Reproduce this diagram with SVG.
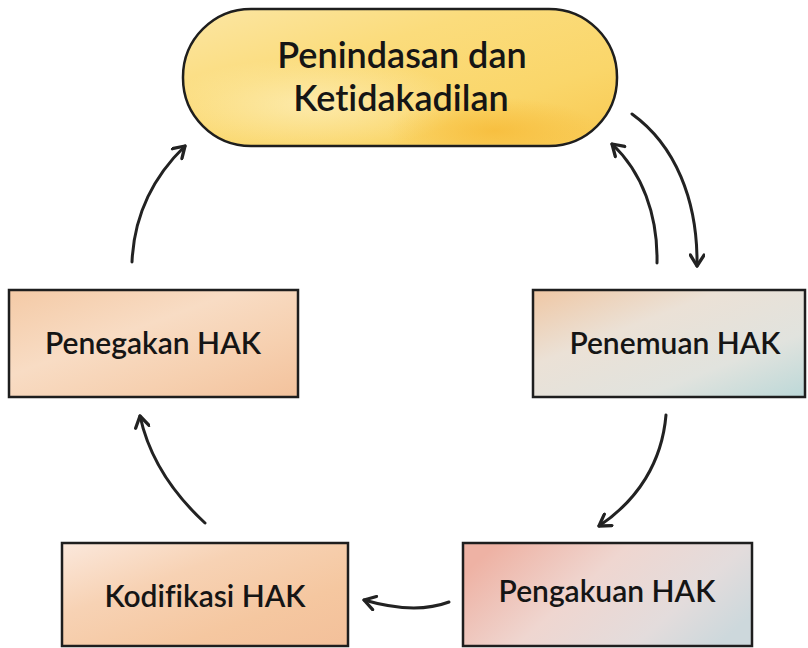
<svg xmlns="http://www.w3.org/2000/svg" width="808" height="648" viewBox="0 0 808 648">
  <style>
    .box { stroke: #1e1e1e; stroke-width: 2.5; }
    .label { font-family: "Lato", "Noto Sans", "Liberation Sans", sans-serif; font-weight: 600; fill: #151515; text-anchor: middle; font-variant-ligatures: none; }
    .big { font-size: 36px; }
    .mid { font-size: 30px; }
    .conn path { fill: none; stroke: #222; stroke-width: 3; stroke-linecap: round; marker-end: url(#head); }
  </style>
  <defs>
    <marker id="head" viewBox="0 0 12 12" refX="10" refY="6" markerWidth="5.5" markerHeight="5.5" orient="auto" markerUnits="strokeWidth">
      <path d="M2,1 L10,6 L2,11" fill="none" stroke="#222" stroke-width="2.4" stroke-linecap="round" stroke-linejoin="round"/>
    </marker>
    <!-- warm yellow wash for the top pill -->
    <linearGradient id="gYellow" x1="0" y1="0" x2="1" y2="1">
      <stop offset="0" stop-color="#fbe6a4"/>
      <stop offset="0.35" stop-color="#fbdc7c"/>
      <stop offset="0.7" stop-color="#fad66a"/>
      <stop offset="1" stop-color="#f8c850"/>
    </linearGradient>
    <radialGradient id="gYellowSpot" cx="0.3" cy="0.7" r="0.35">
      <stop offset="0" stop-color="#fdeeb8" stop-opacity="0.8"/>
      <stop offset="1" stop-color="#fdeeb8" stop-opacity="0"/>
    </radialGradient>
    <radialGradient id="gOrangeSpot" cx="0.72" cy="0.9" r="0.25">
      <stop offset="0" stop-color="#f7bb38" stop-opacity="0.8"/>
      <stop offset="1" stop-color="#f7bb38" stop-opacity="0"/>
    </radialGradient>
    <!-- peach washes -->
    <linearGradient id="gPeachA" x1="0" y1="0" x2="1" y2="1">
      <stop offset="0" stop-color="#f4caa6"/>
      <stop offset="0.4" stop-color="#f8dcc4"/>
      <stop offset="0.7" stop-color="#f6d0b0"/>
      <stop offset="1" stop-color="#f3c29c"/>
    </linearGradient>
    <linearGradient id="gPeachB" x1="0" y1="0" x2="1" y2="1">
      <stop offset="0" stop-color="#fbe8dc"/>
      <stop offset="0.35" stop-color="#f7d2b4"/>
      <stop offset="0.7" stop-color="#f5c7a0"/>
      <stop offset="1" stop-color="#f3c09a"/>
    </linearGradient>
    <!-- peach to blue-grey wash -->
    <linearGradient id="gTeal" x1="0" y1="0" x2="1" y2="1">
      <stop offset="0" stop-color="#efc7a4"/>
      <stop offset="0.35" stop-color="#ebe1d6"/>
      <stop offset="0.7" stop-color="#e1e3de"/>
      <stop offset="1" stop-color="#bcd8d8"/>
    </linearGradient>
    <!-- rose to grey wash -->
    <linearGradient id="gRose" x1="0" y1="0.3" x2="1" y2="0.7">
      <stop offset="0" stop-color="#eeb2a4"/>
      <stop offset="0.4" stop-color="#efd6d0"/>
      <stop offset="0.75" stop-color="#e3dcdc"/>
      <stop offset="1" stop-color="#cdd8dc"/>
    </linearGradient>
  </defs>

  <!-- connectors -->
  <g id="connectors" class="conn">
    <path d="M132,262 C134,215 152,178 185,146"/>
    <path d="M657,263 C658,215 642,172 612,144"/>
    <path d="M632,114 C675,145 698,200 697,266"/>
    <path d="M666,415 C662,462 638,500 599,526"/>
    <path d="M449,602 C425,611 395,609 364,600"/>
    <path d="M205,523 C178,498 150,462 140,416"/>
  </g>

  <!-- nodes -->
  <g id="node-penindasan">
    <rect x="183" y="9" width="434" height="137" rx="68" fill="url(#gYellow)" class="box"/>
    <rect x="185" y="11" width="430" height="133" rx="66" fill="url(#gYellowSpot)"/>
    <rect x="185" y="11" width="430" height="133" rx="66" fill="url(#gOrangeSpot)"/>
    <text class="label big" x="402" y="68">Penindasan dan</text>
    <text class="label big" x="401" y="111">Ketidakadilan</text>
  </g>

  <g id="node-penegakan">
    <rect x="9" y="290" width="289" height="107" fill="url(#gPeachA)" class="box"/>
    <text class="label mid" x="153" y="354">Penegakan HAK</text>
  </g>

  <g id="node-penemuan">
    <rect x="533" y="290" width="272" height="107" fill="url(#gTeal)" class="box"/>
    <text class="label mid" x="675" y="354">Penemuan HAK</text>
  </g>

  <g id="node-pengakuan">
    <rect x="463" y="543" width="289" height="103" fill="url(#gRose)" class="box"/>
    <text class="label mid" x="607" y="602">Pengakuan HAK</text>
  </g>

  <g id="node-kodifikasi">
    <rect x="62" y="543" width="286" height="103" fill="url(#gPeachB)" class="box"/>
    <text class="label mid" x="205" y="607">Kodifikasi HAK</text>
  </g>
</svg>
